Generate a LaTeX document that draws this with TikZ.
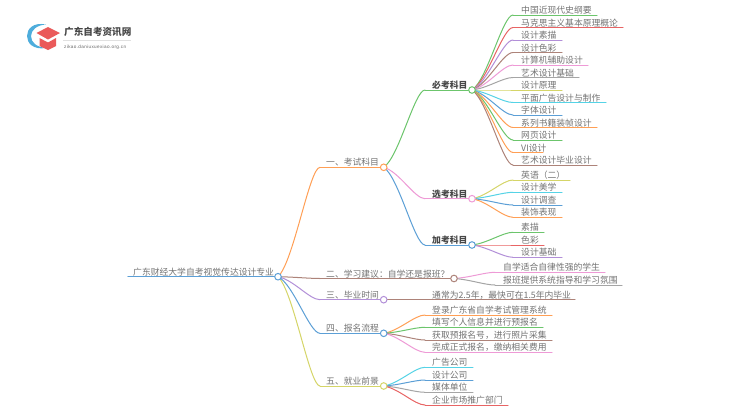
\documentclass[tikz,border=0pt]{standalone}
\usepackage{fontspec}
\setmainfont{Noto Sans CJK SC}
\newfontfamily\lat{Liberation Sans}
\usetikzlibrary{calc}
\definecolor{corange}{HTML}{FF9F55}
\definecolor{cgreen}{HTML}{6CC56C}
\definecolor{cred}{HTML}{E86464}
\definecolor{cpurple}{HTML}{B28FD8}
\definecolor{cbrown}{HTML}{AD8379}
\definecolor{cpink}{HTML}{EE9AD6}
\definecolor{cgray}{HTML}{A5A5A5}
\definecolor{colive}{HTML}{D5D568}
\definecolor{ccyan}{HTML}{55D3E6}
\definecolor{cblue}{HTML}{5C9FD6}
\tikzset{
  x=1pt,y=-1pt,
  lbl/.style={anchor=base west,inner sep=0pt,font=\fontsize{8.8}{10}\selectfont,text=black!55},
  boldlbl/.style={lbl,font=\fontsize{8.8}{10}\selectfont\bfseries,text=black!72},
  dot/.style={circle,draw=#1,fill=white,line width=1pt,minimum size=6.6pt,inner sep=0pt},
  branch/.style={line width=1pt,line cap=round},
}
\newcommand{\drawlink}[3]{%
  \draw[branch,#3] let \p1=(#1),\p2=(#2),\n1={\x2-\x1},\n2={\y2-\y1} in
    (\p1) .. controls ($(\p1)+(0.37*\n1,0.13*\n2)$) and ($(\p1)+(0.75*\n1,\n2)$) .. (\p2);
}
% name, parent, y, start x, end x, colour, text, text x
\newcommand{\leafline}[8]{%
  \coordinate (#1-s) at (#4,#3);
  \coordinate (#1-e) at (#5,#3);
  \node[lbl] (#1) at (#8,#3-1.4) {#7};
  \drawlink{#2}{#1-s}{#6}
  \draw[branch,#6] (#1-s) -- (#1-e);
}
\begin{document}
\begin{tikzpicture}
\useasboundingbox (0,0) rectangle (750,410);
\fill[white] (0,0) rectangle (750,410);
% logo
\fill[cblue!85!cyan] (46,24.5) .. controls (33,22) and (27,29) .. (27,36) .. controls (27,43) and (33,50) .. (46,48) .. controls (37,47) and (31,43) .. (31,36) .. controls (31,30) and (37,25) .. cycle;
\fill[cred!90!red] (36.5,33) -- (48,27) -- (60,33) -- (48,39.5) -- cycle;
\fill[cred!90!red] (39.5,38) -- (48,42.5) -- (56,38) -- (56,46) -- (48,50) -- (39.5,46) -- cycle;
\node[anchor=base west,inner sep=0pt,font=\fontsize{9.6}{11}\selectfont\bfseries,text=black!72] (brand) at (64,35.5) {广东自考资讯网};
\draw[black!12,line width=.5pt] (63,40.5) -- (131,40.5);
\node[anchor=base west,inner sep=0pt,font=\lat\fontsize{4.6}{6}\selectfont\addfontfeature{LetterSpace=8},text=black!60] (url) at (64,48) {zikao.daniuxuexiao.org.cn};
\coordinate (root) at (278,276.7);
\coordinate (n1) at (383.7,167.3);
\coordinate (n2) at (454,278.5);
\coordinate (n3) at (383.7,299.7);
\coordinate (n4) at (383.7,333.3);
\coordinate (n5) at (383.7,386);
\coordinate (a) at (472,90);
\coordinate (b) at (472,198.7);
\coordinate (c) at (472,245);
% root stem
\coordinate (rootstart) at (128,276.7);
\draw[branch,line width=1.5pt,cblue] (rootstart) -- (root);
\node[lbl] (roottext) at (133,275.2) {广东财经大学自考视觉传达设计专业};
% first level
\leafline{t1}{root}{167.3}{320}{383.7}{corange}{一、考试科目}{326}
\leafline{t2}{root}{278.5}{320}{454}{cbrown}{二、学习建议：自学还是报班？}{326}
\leafline{t3}{root}{299.7}{320}{383.7}{cpurple}{三、毕业时间}{326}
\leafline{t4}{root}{333.3}{320}{383.7}{cblue}{四、报名流程}{326}
\leafline{t5}{root}{386}{320}{383.7}{colive}{五、就业前景}{326}
% second level
\coordinate (as) at (425,90);
\drawlink{n1}{as}{cgreen}
\draw[branch,cgreen] (as) -- (a);
\node[boldlbl] (at) at (432,88.6) {必考科目};
\coordinate (bs) at (425,198.7);
\drawlink{n1}{bs}{cpink}
\draw[branch,cpink] (bs) -- (b);
\node[boldlbl] (bt) at (432,197.3) {选考科目};
\coordinate (cs) at (425,245);
\drawlink{n1}{cs}{cblue}
\draw[branch,cblue] (cs) -- (c);
\node[boldlbl] (ct) at (432,243.6) {加考科目};
% required leaves
\leafline{a1}{a}{15}{513}{597}{cgreen}{中国近现代史纲要}{521}
\leafline{a2}{a}{27.5}{513}{623}{cred}{马克思主义基本原理概论}{521}
\leafline{a3}{a}{40}{513}{562}{cpurple}{设计素描}{521}
\leafline{a4}{a}{52.5}{513}{562}{cbrown}{设计色彩}{521}
\leafline{a5}{a}{65}{513}{588}{cpink}{计算机辅助设计}{521}
\leafline{a6}{a}{77.5}{513}{579}{cgray}{艺术设计基础}{521}
\leafline{a7}{a}{90}{513}{562}{colive}{设计原理}{521}
\leafline{a8}{a}{102.5}{513}{606}{ccyan}{平面广告设计与制作}{521}
\leafline{a9}{a}{115}{513}{562}{cblue}{字体设计}{521}
\leafline{a10}{a}{127.5}{513}{597}{corange}{系列书籍装帧设计}{521}
\leafline{a11}{a}{140}{513}{562}{cgreen}{网页设计}{521}
\leafline{a12}{a}{152.5}{513}{543}{corange}{VI设计}{521}
\leafline{a13}{a}{165}{513}{597}{cbrown}{艺术设计毕业设计}{521}
% elective leaves
\leafline{b1}{b}{180}{513}{570}{colive}{英语（二）}{521}
\leafline{b2}{b}{192.3}{513}{562}{ccyan}{设计美学}{521}
\leafline{b3}{b}{205}{513}{562}{cblue}{设计调查}{521}
\leafline{b4}{b}{217.3}{513}{562}{corange}{装饰表现}{521}
% extra leaves
\leafline{c1}{c}{232.3}{513}{544}{cgreen}{素描}{521}
\leafline{c2}{c}{245}{513}{544}{cred}{色彩}{521}
\leafline{c3}{c}{257.3}{513}{562}{cpurple}{设计基础}{521}
% section 2
\leafline{d1}{n2}{272.3}{495}{605}{cpink}{自学适合自律性强的学生}{503}
\leafline{d2}{n2}{285}{495}{622}{cgray}{报班提供系统指导和学习氛围}{503}
% section 3
\leafline{e1}{n3}{299.7}{425}{575}{cbrown}{通常为2.5年，最快可在1.5年内毕业}{432}
% section 4
\leafline{f1}{n4}{315}{425}{552}{corange}{登录广东省自学考试管理系统}{432}
\leafline{f2}{n4}{327.3}{425}{543}{cgreen}{填写个人信息并进行预报名}{432}
\leafline{f3}{n4}{340}{425}{552}{cbrown}{获取预报名号，进行照片采集}{432}
\leafline{f4}{n4}{352.3}{425}{552}{cpink}{完成正式报名，缴纳相关费用}{432}
% section 5
\leafline{g1}{n5}{367.3}{425}{473}{ccyan}{广告公司}{432}
\leafline{g2}{n5}{380}{425}{473}{cblue}{设计公司}{432}
\leafline{g3}{n5}{392.3}{425}{473}{cgray}{媒体单位}{432}
\leafline{g4}{n5}{405}{425}{508}{cred}{企业市场推广部门}{432}
% junction dots
\node[dot=cblue] (d-root) at (root) {};
\node[dot=corange] (d-n1) at (n1) {};
\node[dot=cbrown] (d-n2) at (n2) {};
\node[dot=cpurple] (d-n3) at (n3) {};
\node[dot=cblue] (d-n4) at (n4) {};
\node[dot=colive] (d-n5) at (n5) {};
\node[dot=cgreen] (d-a) at (a) {};
\node[dot=cpink] (d-b) at (b) {};
\node[dot=cblue] (d-c) at (c) {};
\end{tikzpicture}
\end{document}
